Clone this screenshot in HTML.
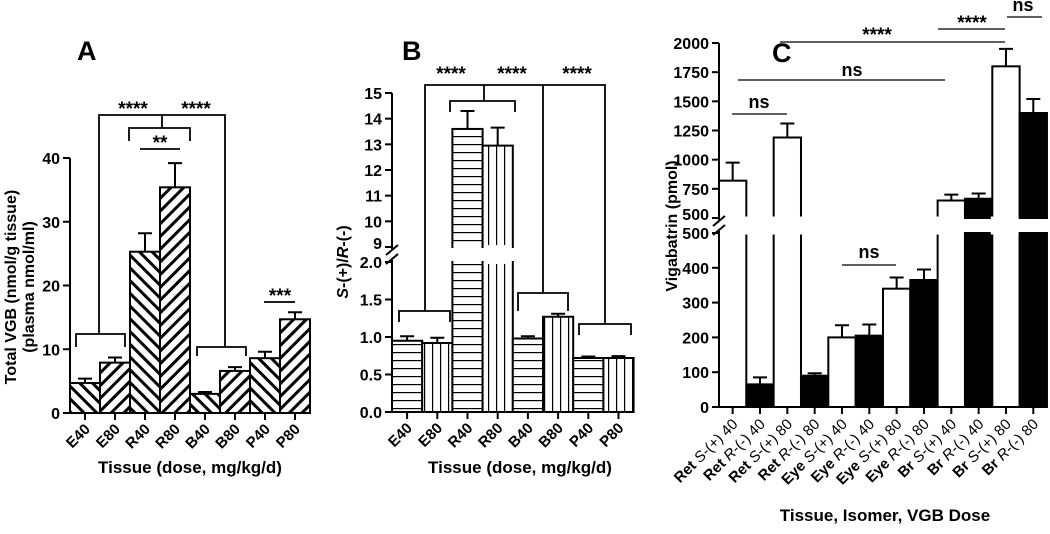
<!DOCTYPE html>
<html><head><meta charset="utf-8"><style>
body{margin:0;background:#fff;}
svg text{font-family:"Liberation Sans",Arial,sans-serif;font-weight:bold;fill:#000;}
</style></head><body>
<svg id="fig" width="1050" height="529" viewBox="0 0 1050 529" xmlns="http://www.w3.org/2000/svg">
<defs>
<pattern id="hatchBack" patternUnits="userSpaceOnUse" width="9" height="9" patternTransform="rotate(-45)"><rect width="9" height="9" fill="#fff"/><rect x="0" y="0" width="3" height="9" fill="#000"/></pattern>
<pattern id="hatchFwd" patternUnits="userSpaceOnUse" width="9" height="9" patternTransform="rotate(45)"><rect width="9" height="9" fill="#fff"/><rect x="0" y="0" width="3" height="9" fill="#000"/></pattern>
<pattern id="hStripe" patternUnits="userSpaceOnUse" width="8" height="8"><rect width="8" height="8" fill="#fff"/><rect x="0" y="0" width="8" height="1.2" fill="#000"/></pattern>
<pattern id="vStripe" patternUnits="userSpaceOnUse" width="8" height="8"><rect width="8" height="8" fill="#fff"/><rect x="0" y="0" width="1.2" height="8" fill="#000"/></pattern>
</defs>
<g id="pa"></g>
<g id="pb"></g>
<g id="pc"></g>
</svg>
<script>
// Panel A data
const catsA = ["E40","E80","R40","R80","B40","B80","P40","P80"];
const valsA = [4.7,7.9,25.3,35.4,3.0,6.6,8.6,14.7];
const errA = [5.4,8.7,28.2,39.2,3.3,7.2,9.6,15.8];
const ticksA = [0,10,20,30,40];
// Panel B data
const catsB = ["E40","E80","R40","R80","B40","B80","P40","P80"];
const valsB = [0.95,0.92,13.6,12.95,0.98,1.27,0.72,0.72];
const errB = [1.01,0.99,14.3,13.65,1.01,1.31,0.74,0.745];
const ticksBlow = ["0.0","0.5","1.0","1.5","2.0"];
const ticksBup = [9,10,11,12,13,14,15];
// Panel C data
const tissueC = ["Ret","Ret","Ret","Ret","Eye","Eye","Eye","Eye","Br","Br","Br","Br"];
const isoC = ["S","R","S","R","S","R","S","R","S","R","S","R"];
const doseC = ["40","40","80","80","40","40","80","80","40","40","80","80"];
const valsC = [820,65,1190,90,200,205,340,365,650,665,1800,1400];
const errC = [975,85,1310,97,235,237,372,395,700,710,1950,1520];
const ticksClow = [0,100,200,300,400,500];
const ticksCup = [500,750,1000,1250,1500,1750,2000];

const NS="http://www.w3.org/2000/svg";
function mk(parent,tag,attrs,txt){const e=document.createElementNS(NS,tag);for(const k in attrs)e.setAttribute(k,attrs[k]);if(txt!==undefined)e.textContent=txt;parent.appendChild(e);return e;}
function path(g,d,w){return mk(g,'path',{d:d,fill:'none',stroke:'#000','stroke-width':w||2});}

// ---------- Panel A ----------
(function(){
const g=document.getElementById('pa');
const x0=70,bw=30,y0=413,ppu=6.375;
const y=v=>y0-v*ppu, xc=i=>x0+bw*i+bw/2;
let t=mk(g,'text',{x:77,y:60,'font-size':27},'A');

valsA.forEach((v,i)=>{
 const xl=x0+bw*i;
 const r=mk(g,'rect',{x:xl,y:y(v),width:bw,height:y0-y(v),fill:i%2?'url(#hatchFwd)':'url(#hatchBack)',stroke:'#000','stroke-width':2});
 
 const e=path(g,`M${xc(i)} ${y(v)}V${y(errA[i])}M${xc(i)-7} ${y(errA[i])}H${xc(i)+7}`);
 
 path(g,`M${xc(i)} ${y0}V${y0+7}`);
 const l=mk(g,'text',{x:xc(i)+6,y:y0+17,'font-size':15,'text-anchor':'end',transform:`rotate(-45 ${xc(i)+6} ${y0+17})`},catsA[i]);
 
});
const ax=path(g,`M${x0} ${y(40)}V${y0}H${x0+bw*8}`);

ticksA.forEach(v=>{path(g,`M${x0-7} ${y(v)}H${x0}`);
 const l=mk(g,'text',{x:x0-10,y:y(v)+6,'font-size':16,'text-anchor':'end'},v);
 });
let yt=mk(g,'text',{x:16,y:287,'font-size':16,'text-anchor':'middle',transform:'rotate(-90 16 287)'},'Total VGB (nmol/g tissue)');

yt=mk(g,'text',{x:34,y:287,'font-size':16,'text-anchor':'middle',transform:'rotate(-90 34 287)'},'(plasma nmol/ml)');

let xt=mk(g,'text',{x:190,y:473,'font-size':17,'text-anchor':'middle'},'Tissue (dose, mg/kg/d)');

const s=path(g,'M76 347V334H125V347M99 334V115H162V128M129 141V128H190V141M162 115H225V347M197 356V347H246V356M140 149H180M264 302H295',1.8);

[[133,115,'****'],[196,115,'****'],[160,149,'**'],[280,302,'***']].forEach(a=>{const l=mk(g,'text',{x:a[0],y:a[1],'font-size':19,'text-anchor':'middle'},a[2]);
 });
})();

// ---------- Panel B ----------
(function(){
const g=document.getElementById('pb');
const x0=392,bw=30.2,y0=412,pLow=75,yBrk=262,uTop=93,uBot=247,pUp=(uBot-uTop)/6;
const yl=v=>y0-v*pLow, yu=v=>uBot-(v-9)*pUp, xc=i=>x0+bw*i+bw/2;
const yv=v=>v<=2?yl(v):yu(v);
let t=mk(g,'text',{x:402,y:60,'font-size':27},'B');

valsB.forEach((v,i)=>{
 const xl=x0+bw*i,fill=i%2?'url(#vStripe)':'url(#hStripe)';
 if(v<=2){const r=mk(g,'rect',{x:xl,y:yl(v),width:bw,height:y0-yl(v),fill:fill,stroke:'#000','stroke-width':2});
  }
 else{const r=mk(g,'rect',{x:xl,y:yBrk,width:bw,height:y0-yBrk,fill:fill,stroke:'#000','stroke-width':2});
  
  const r2=mk(g,'rect',{x:xl,y:yu(v),width:bw,height:uBot-yu(v),fill:fill,stroke:'#000','stroke-width':2});
  
  mk(g,'rect',{x:xl+1,y:yBrk-3,width:bw-2,height:5,fill:'#fff'});mk(g,'rect',{x:xl+1,y:uBot-2,width:bw-2,height:4,fill:'#fff'});}
 const e=path(g,`M${xc(i)} ${yv(v)}V${yv(errB[i])}M${xc(i)-7} ${yv(errB[i])}H${xc(i)+7}`);
 
 path(g,`M${xc(i)} ${y0}V${y0+7}`);
 const l=mk(g,'text',{x:xc(i)+6,y:y0+17,'font-size':15,'text-anchor':'end',transform:`rotate(-45 ${xc(i)+6} ${y0+17})`},catsB[i]);
 
});
const ax=path(g,`M${x0} ${uTop}V${uBot+2}M${x0} ${yBrk-2}V${y0}H${x0+bw*8}M${x0-6} ${uBot+8}L${x0+6} ${uBot-2}M${x0-6} ${yBrk+2}L${x0+6} ${yBrk-8}`);

ticksBlow.forEach(v=>{path(g,`M${x0-7} ${yl(+v)}H${x0}`);
 const l=mk(g,'text',{x:x0-10,y:yl(+v)+6,'font-size':16,'text-anchor':'end'},v);
 });
ticksBup.forEach(v=>{path(g,`M${x0-7} ${yu(v)}H${x0}`);
 const l=mk(g,'text',{x:x0-10,y:yu(v)+(v===9?2:6),'font-size':16,'text-anchor':'end'},v);
 });
const yt=mk(g,'text',{x:348,y:262,'font-size':16,'text-anchor':'middle',transform:'rotate(-90 348 262)'});

yt.innerHTML='<tspan font-style="italic">S</tspan>-(+)/<tspan font-style="italic">R</tspan>-(-)';
const xt=mk(g,'text',{x:520,y:473,'font-size':17,'text-anchor':'middle'},'Tissue (dose, mg/kg/d)');

const s=path(g,'M399 322V311H450V322M425 311V85H605V324M484 85V101M450 112V101H515V112M543 85V293M518 311V293H568V311M579 335V324H631V335',1.8);

[451,512,577].forEach(x=>{const l=mk(g,'text',{x:x,y:80,'font-size':19,'text-anchor':'middle'},'****');
 });
})();

// ---------- Panel C ----------
(function(){
const g=document.getElementById('pc');
const x0=719,bw=27.33,y0=407,lowTop=233,upBot=218,upTop=43;
const pLow=(y0-lowTop)/500,pUp=(upBot-upTop)/1500;
const yl=v=>y0-v*pLow, yu=v=>upBot-(v-500)*pUp, xc=i=>x0+bw*i+bw/2;
const yv=v=>v<=500?yl(v):yu(v);
let t=mk(g,'text',{x:772,y:62,'font-size':27},'C');

valsC.forEach((v,i)=>{
 const xl=x0+bw*i,fill=isoC[i]==='S'?'#fff':'#000';
 if(v<=500){const r=mk(g,'rect',{x:xl,y:yl(v),width:bw,height:y0-yl(v),fill:fill,stroke:'#000','stroke-width':2});
  }
 else{const r=mk(g,'rect',{x:xl,y:lowTop,width:bw,height:y0-lowTop,fill:fill,stroke:'#000','stroke-width':2});
  
  const r2=mk(g,'rect',{x:xl,y:yu(v),width:bw,height:upBot-yu(v),fill:fill,stroke:'#000','stroke-width':2});
  
  if(fill==='#fff'){mk(g,'rect',{x:xl-1.5,y:lowTop-2.5,width:bw+3,height:4,fill:'#fff'});mk(g,'rect',{x:xl-1.5,y:upBot-1.5,width:bw+3,height:4,fill:'#fff'});}}
 const e=path(g,`M${xc(i)} ${yv(v)}V${yv(errC[i])}M${xc(i)-7} ${yv(errC[i])}H${xc(i)+7}`);
 
 path(g,`M${xc(i)} ${y0}V${y0+7}`);
 const l=mk(g,'text',{x:xc(i)+6,y:y0+18,'font-size':15,'text-anchor':'end',transform:`rotate(-45 ${xc(i)+6} ${y0+18})`});
 
 l.innerHTML=tissueC[i]+' <tspan font-weight="normal" font-style="italic">'+isoC[i]+'</tspan><tspan font-weight="normal">'+(isoC[i]==='S'?'-(+) ':'-(-) ')+doseC[i]+'</tspan>';
});
const ax=path(g,`M${x0} ${upTop}V${upBot+2}M${x0} ${lowTop-2}V${y0}H${x0+bw*12}M${x0-6} ${upBot+8}L${x0+6} ${upBot-2}M${x0-6} ${lowTop+2}L${x0+6} ${lowTop-8}`);

ticksClow.forEach(v=>{path(g,`M${x0-7} ${yl(v)}H${x0}`);
 const l=mk(g,'text',{x:x0-10,y:yl(v)+6,'font-size':16,'text-anchor':'end'},v);
 });
ticksCup.forEach(v=>{path(g,`M${x0-7} ${yu(v)}H${x0}`);
 const l=mk(g,'text',{x:x0-10,y:yu(v)+(v===500?2:6),'font-size':16,'text-anchor':'end'},v);
 });
const yt=mk(g,'text',{x:677,y:226,'font-size':16,'text-anchor':'middle',transform:'rotate(-90 677 226)'},'Vigabatrin (pmol)');

const xt=mk(g,'text',{x:885,y:521,'font-size':17,'text-anchor':'middle'},'Tissue, Isomer, VGB Dose');

const s=path(g,'M732 114H787M738 80H945M780 42H1005M938 29H1005M1007 17H1042M842 265H896',1.3);

[[759,108,'ns'],[852,76,'ns'],[877,41,'****'],[972,29,'****'],[1023,11,'ns'],[869,258,'ns']].forEach(a=>{
 const l=mk(g,'text',{x:a[0],y:a[1],'font-size':a[2]==='ns'?18:19,'text-anchor':'middle'},a[2]);
 });
})();
</script>
</body></html>
